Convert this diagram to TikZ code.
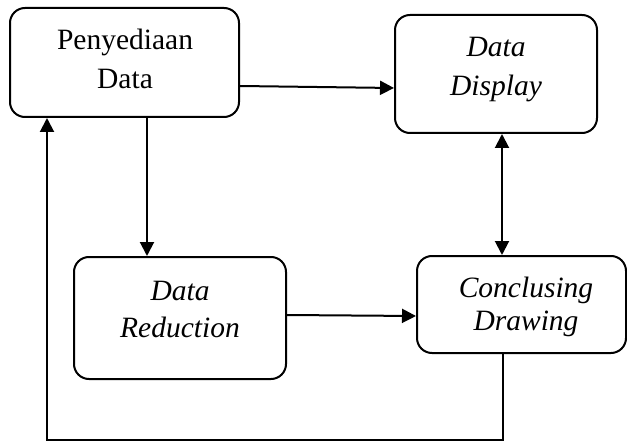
\documentclass[tikz,border=0pt]{standalone}
\usepackage{fontspec}
\setmainfont{Liberation Serif}
\usetikzlibrary{arrows.meta}
\begin{document}
\begin{tikzpicture}[x=1pt,y=-1pt,
  box/.style={draw,line width=2pt,rounded corners=15pt,inner sep=0pt},
  lbl/.style={anchor=base,inner sep=0pt,font=\fontsize{29.5}{35}\selectfont},
  tip/.style={Triangle[length=14pt,width=14pt]},
  arr/.style={line width=2pt,-{Triangle[length=14pt,width=14pt]}},
  darr/.style={line width=2pt,{Triangle[length=14pt,width=14pt]}-{Triangle[length=14pt,width=14pt]}}]
\useasboundingbox (0,0) rectangle (627,441);

% boxes
\node[box,minimum width=229pt,minimum height=109pt] (pen)  at (124.5,62.5) {};
\node[box,minimum width=202pt,minimum height=118pt] (disp) at (496,74) {};
\node[box,minimum width=212pt,minimum height=122pt] (red)  at (180,318) {};
\node[box,minimum width=209pt,minimum height=97pt]  (conc) at (521.5,304.5) {};

% labels
\node[lbl] (pen1)  at (125,50)  {Penyediaan};
\node[lbl] (pen2)  at (125,89)  {Data};
\node[lbl] (disp1) at (496,57)  {\itshape Data};
\node[lbl] (disp2) at (496,96)  {\itshape Display};
\node[lbl] (red1)  at (180,300) {\itshape Data};
\node[lbl] (red2)  at (180,337) {\itshape Reduction};
\node[lbl] (conc1) at (526,297) {\itshape Conclusing};
\node[lbl] (conc2) at (526,330) {\itshape Drawing};

% connectors
\draw[arr] (pen.east |- 0,86) -- (disp.west |- 0,88);
\draw[arr] (pen.south -| 147,0) -- (red.north -| 147,0);
\draw[arr] (red.east |- 0,315) -- (conc.west |- 0,316);
\draw[darr] (disp.south -| 502,0) -- (conc.north -| 502,0);
\coordinate (back) at (47,440);
\draw[arr] (conc.south -| 503,0) |- (back) -- (pen.south -| 47,0);
\end{tikzpicture}
\end{document}
